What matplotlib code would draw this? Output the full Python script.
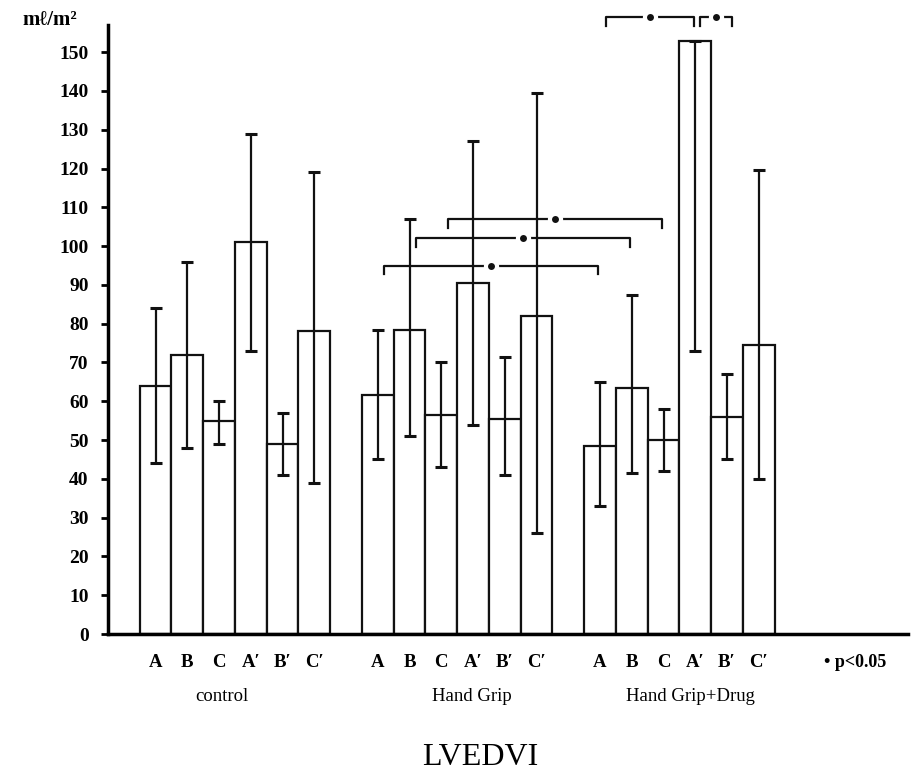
import numpy as np
import matplotlib.pyplot as plt
from matplotlib.transforms import blended_transform_factory

SERIF = ['Liberation Serif', 'DejaVu Serif']
plt.rcParams['font.family'] = SERIF

letters = ['A', 'B', 'C', 'A′', 'B′', 'C′']
groups = ['control', 'Hand Grip', 'Hand Grip+Drug']

# mean and whisker ends (ml/m2) for A B C A' B' C'
control_mean = [64, 72, 55, 101, 49, 78]
control_low = [44, 48, 49, 73, 41, 39]
control_high = [84, 96, 60, 129, 57, 119]

grip_mean = [61.5, 78.5, 56.5, 90.5, 55.5, 82]
grip_low = [45, 51, 43, 54, 41, 26]
grip_high = [78.5, 107, 70, 127, 71.5, 139.5]

drug_mean = [48.5, 63.5, 50, 153, 56, 74.5]
drug_low = [33, 41.5, 42, 73, 45, 40]
drug_high = [65, 87.5, 58, 153, 67, 119.5]

# significance brackets: (left bar, right bar, height)
brackets = [(7, 14, 95), (8, 15, 102), (9, 16, 107), (14, 17, 159), (17, 18, 159)]

means = [control_mean, grip_mean, drug_mean]
lows = [control_low, grip_low, drug_low]
highs = [control_high, grip_high, drug_high]

fig = plt.figure(figsize=(9.22, 7.77), dpi=100)
ax = fig.add_axes([0.1171, 0.184, 0.8677, 0.7838])
tr = blended_transform_factory(ax.transData, ax.transAxes)

for g in range(3):
    x = np.arange(6) + 7 * g
    m = np.array(means[g])
    lo = m - np.array(lows[g])
    hi = np.array(highs[g]) - m
    ax.bar(x, m, width=1.0, color='white', edgecolor='#111111', linewidth=1.6, zorder=2)
    ax.errorbar(x, m, yerr=[lo, hi], fmt='none', ecolor='#111111',
                elinewidth=1.6, capsize=4, capthick=2.2, zorder=3)
    for i, lab in enumerate(letters):
        ax.text(x[i], -0.046, lab, transform=tr,
                ha='center', va='center', fontsize=13.5, fontweight='bold')

ax.text(2.1, -0.103, groups[0], transform=tr, ha='center', va='center', fontsize=13.5)
ax.text(9.95, -0.103, groups[1], transform=tr, ha='center', va='center', fontsize=13.5)
ax.text(16.85, -0.103, groups[2], transform=tr, ha='center', va='center', fontsize=13.5)
ax.text(22.05, -0.046, '• p<0.05', transform=tr, ha='center', va='center', fontsize=13, fontweight='bold')
ax.text(10.23, -0.202, 'LVEDVI', transform=tr, ha='center', va='center', fontsize=23)

ax.text(-4.2, 158.2, 'mℓ/m²', ha='left', va='center', fontsize=15, fontweight='bold', clip_on=False)

for i, (a, b, h) in enumerate(brackets):
    x1, x2 = a + 0.2, b - 0.05
    if i == 4:
        x1, x2 = a + 0.15, b + 0.15
    ax.plot([x1, x1, x2, x2], [h - 2.2, h, h, h - 2.2], color='#111111', lw=1.6,
            clip_on=False, zorder=4)
    ax.plot([(x1 + x2) / 2], [h], marker='o', markersize=5, color='#111111',
            markeredgewidth=0, clip_on=False, zorder=5)
    ax.plot([(x1 + x2) / 2], [h], marker='o', markersize=11, color='white',
            markeredgewidth=0, clip_on=False, zorder=4.5)

ax.set_xlim(-1.5, 23.7)
ax.set_ylim(0, 157)
ax.set_yticks(np.arange(0, 151, 10))
ax.set_xticks([])
ax.tick_params(axis='y', direction='out', length=5, width=2, pad=9, labelsize=14)
for lab in ax.get_yticklabels():
    lab.set_fontweight('bold')
for s in ['top', 'right']:
    ax.spines[s].set_visible(False)
ax.spines['left'].set_linewidth(2.5)
ax.spines['bottom'].set_linewidth(2.5)

fig.savefig('out.png', dpi=100)
